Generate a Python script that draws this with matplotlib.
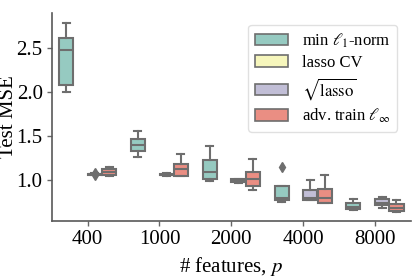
import matplotlib
matplotlib.use("Agg")
import matplotlib.pyplot as plt
from matplotlib.patches import Patch
import seaborn as sns

# feature counts on the x axis
features = ["400", "1000", "2000", "4000", "8000"]
methods = [r"min $\ell_1$-norm", "lasso CV", r"$\sqrt{\mathrm{lasso}}$",
           r"adv. train $\ell_\infty$"]

# box stats per method, per feature count: (whislo, q1, med, q3, whishi, fliers)
# lasso CV has no values inside the plotted range
min_l1 = [(2.01, 2.09, 2.48, 2.62, 2.79, []),
          (1.27, 1.33, 1.40, 1.47, 1.56, []),
          (0.99, 1.02, 1.09, 1.23, 1.39, []),
          (0.75, 0.78, 0.80, 0.93, 0.93, [1.155]),
          (0.665, 0.675, 0.70, 0.74, 0.785, [])]
lasso_cv = [None, None, None, None, None]
sqrt_lasso = [(1.062, 1.066, 1.07, 1.074, 1.078, [1.055, 1.085]),
              (1.05, 1.055, 1.063, 1.072, 1.08, []),
              (0.965, 0.985, 1.0, 1.01, 1.01, []),
              (0.776, 0.78, 0.80, 0.89, 1.0, []),
              (0.69, 0.716, 0.745, 0.785, 0.81, [])]
adv_train = [(1.05, 1.06, 1.09, 1.13, 1.155, []),
             (1.05, 1.05, 1.125, 1.19, 1.295, []),
             (0.886, 0.935, 1.01, 1.10, 1.24, []),
             (0.74, 0.74, 0.80, 0.90, 1.065, []),
             (0.645, 0.65, 0.69, 0.727, 0.776, [])]
series = [min_l1, lasso_cv, sqrt_lasso, adv_train]

plt.rcParams["font.family"] = "serif"
plt.rcParams["font.serif"] = ["Liberation Serif", "DejaVu Serif"]
plt.rcParams["mathtext.fontset"] = "stix"

colors = [sns.desaturate(c, 0.75) for c in sns.color_palette("Set3", 4)]
line_gray = "#6e6e6e"

fig = plt.figure(figsize=(4.15, 2.77), dpi=100)
ax = fig.add_axes([0.1245, 0.203, 0.8655, 0.749])

n_hue = len(methods)
width = 0.8 / n_hue
for j, (stats_list, color) in enumerate(zip(series, colors)):
    for i, st in enumerate(stats_list):
        if st is None:
            continue
        lo, q1, med, q3, hi, fl = st
        pos = i - 0.4 + width * (j + 0.5)
        ax.bxp([dict(whislo=lo, q1=q1, med=med, q3=q3, whishi=hi, fliers=fl)],
               positions=[pos], widths=[width * 0.98], patch_artist=True,
               manage_ticks=False,
               boxprops=dict(facecolor=color, edgecolor=line_gray, linewidth=1.5),
               medianprops=dict(color=line_gray, linewidth=1.5),
               whiskerprops=dict(color=line_gray, linewidth=1.5),
               capprops=dict(color=line_gray, linewidth=1.5),
               flierprops=dict(marker="d", markerfacecolor=line_gray,
                               markeredgecolor=line_gray, markersize=5.5))

ax.set_xlim(-0.5, len(features) - 0.5)
ax.set_ylim(0.54, 2.90)
ax.set_xticks(range(len(features)))
ax.set_xticklabels(features)
ax.set_yticks([1.0, 1.5, 2.0, 2.5])
ax.tick_params(labelsize=15, color="0.4", length=3.5, width=1, pad=3)
for s in ["top", "right"]:
    ax.spines[s].set_visible(False)
for s in ["left", "bottom"]:
    ax.spines[s].set_color("0.35")
    ax.spines[s].set_linewidth(1.2)

ax.set_xlabel(r"# features, $p$", fontsize=15)
ax.set_ylabel("Test MSE", fontsize=15)
ax.yaxis.set_label_coords(-0.095, 0.5)
ax.xaxis.set_label_coords(0.5, -0.165)

handles = [Patch(facecolor=c, edgecolor=line_gray, linewidth=1.2) for c in colors]
ax.legend(handles, methods, loc="upper right", fontsize=12, frameon=True,
          edgecolor="0.85", labelspacing=0.3, bbox_to_anchor=(0.985, 0.985))

fig.savefig("out.png", dpi=100)
